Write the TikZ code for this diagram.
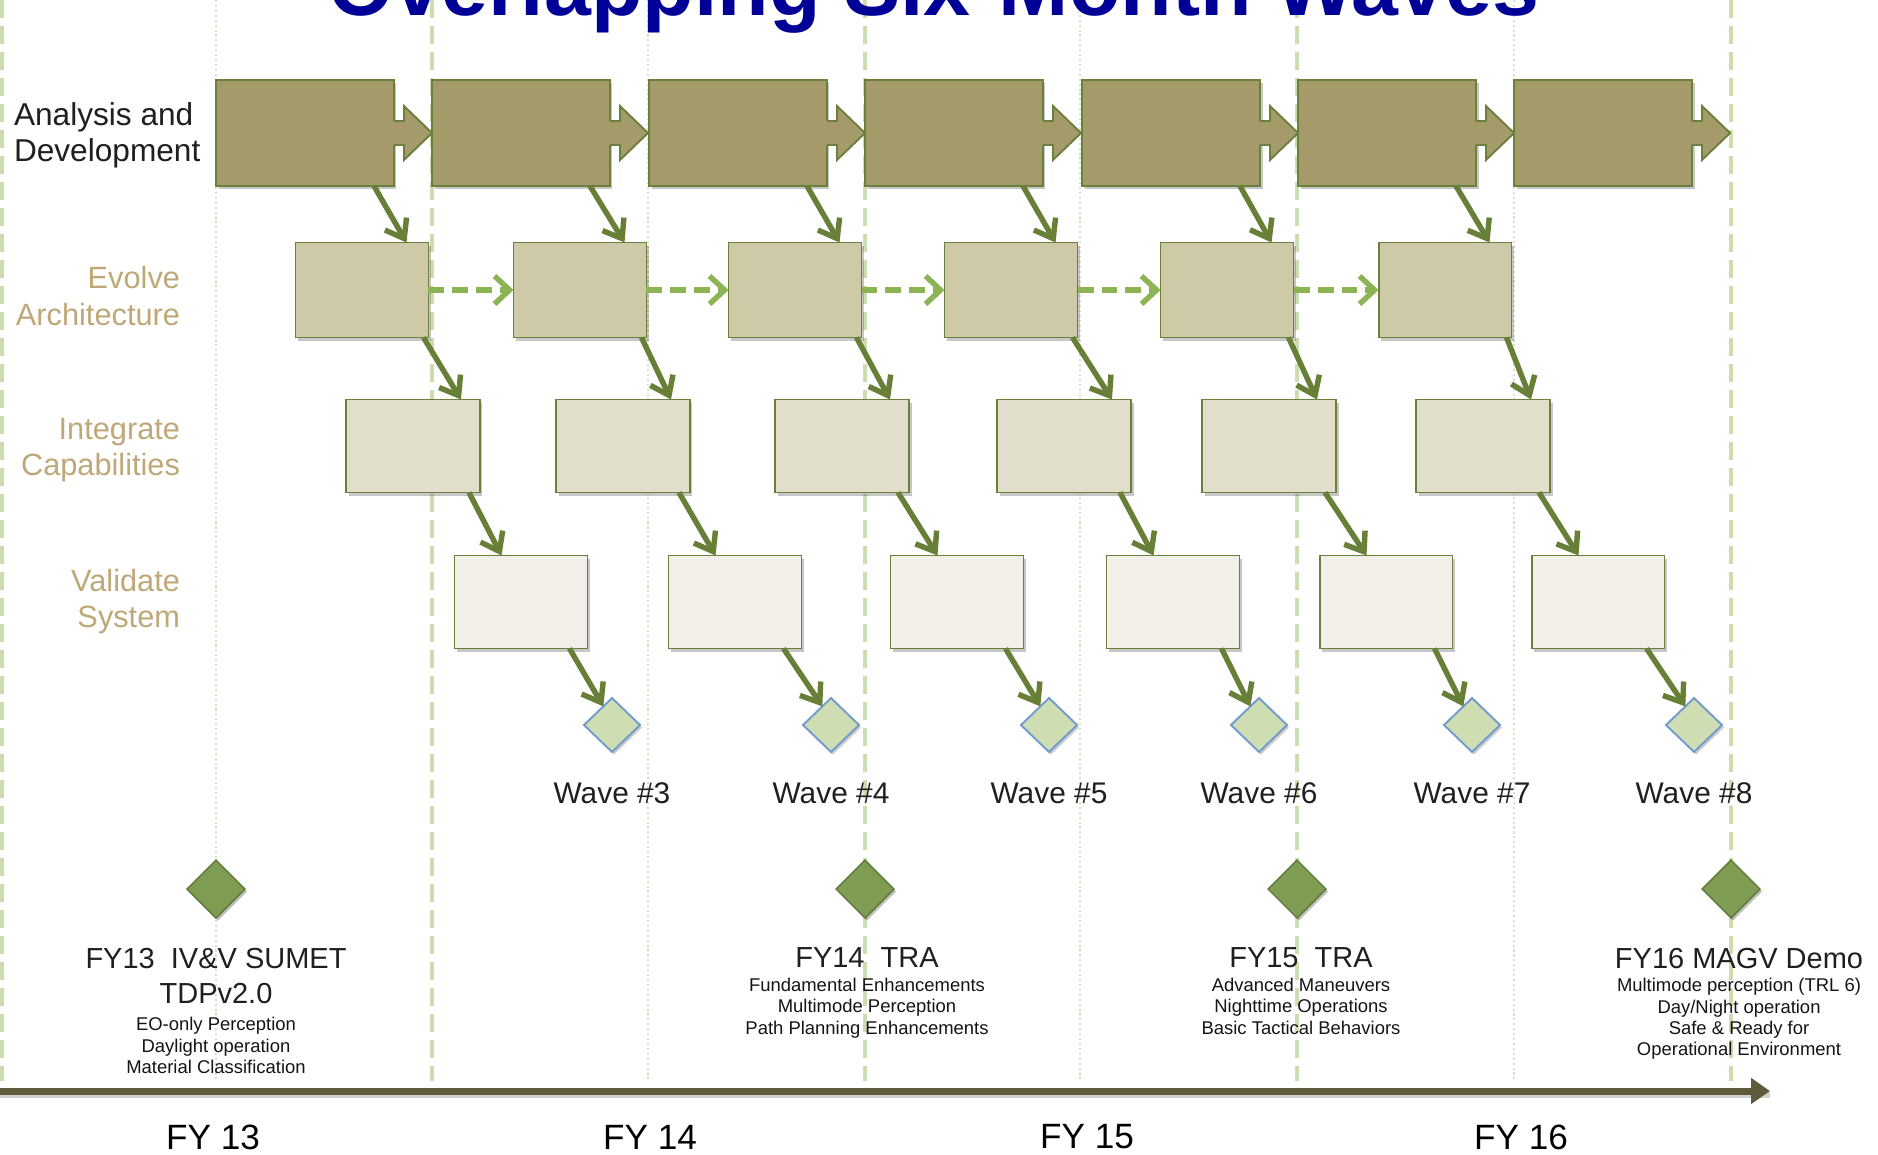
\documentclass[tikz,border=0pt]{standalone}
\usepackage{fontspec}
\setmainfont{Liberation Sans}
\usepackage{tikz}
\usetikzlibrary{positioning, arrows.meta, shapes.geometric, shadows, calc}

\definecolor{titleblue}{RGB}{0,0,150}
\definecolor{adfill}{RGB}{165,155,106}
\definecolor{eafill}{RGB}{206,201,167}
\definecolor{icfill}{RGB}{225,222,204}
\definecolor{vsfill}{RGB}{241,239,231}
\definecolor{boxedge}{RGB}{106,128,60}
\definecolor{flowgreen}{RGB}{104,127,55}
\definecolor{dashgreen}{RGB}{140,180,85}
\definecolor{guidegreen}{RGB}{204,222,176}
\definecolor{guidedot}{RGB}{214,226,198}
\definecolor{rowtan}{RGB}{190,168,120}
\definecolor{axisbrown}{RGB}{94,91,58}
\definecolor{wavefill}{RGB}{207,222,178}
\definecolor{waveedge}{RGB}{115,155,205}
\definecolor{msfill}{RGB}{127,157,82}
\definecolor{msedge}{RGB}{95,120,55}

% arrow head on the right of a top row box
\newcommand{\adhead}[1]{%
  \fill[adfill] ($(#1.east)+(-3,-12)$) -- ++(13,0) -- ++(0,-15) -- ++(28,27)
    -- ++(-28,27) -- ++(0,-15) -- ++(-13,0) -- cycle;
  \draw[boxedge, line width=1.1pt, line join=miter] ($(#1.east)+(0,-12)$) -- ++(10,0)
    -- ++(0,-15) -- ++(28,27) -- ++(-28,27) -- ++(0,-15) -- ++(-10,0);}

\begin{document}
\begin{tikzpicture}[
        x=0.02cm, y=-0.02cm,
        every node/.style={inner sep=0pt, outer sep=0pt}, % Node style
        box/.style={rectangle, draw=boxedge, line width=1.1pt,
            drop shadow={shadow xshift=0.05cm, shadow yshift=-0.06cm, opacity=0.22, fill=black}},
        adbox/.style={box, fill=adfill, minimum width=3.56cm, minimum height=2.12cm},
        eabox/.style={box, fill=eafill, minimum width=2.66cm, minimum height=1.9cm},
        icbox/.style={box, fill=icfill, minimum width=2.68cm, minimum height=1.86cm},
        vsbox/.style={box, fill=vsfill, minimum width=2.66cm, minimum height=1.86cm},
        wave/.style={diamond, draw=waveedge, fill=wavefill, line width=1.1pt,
            minimum width=1.12cm, minimum height=1.08cm,
            drop shadow={shadow xshift=0.04cm, shadow yshift=-0.05cm, opacity=0.2, fill=black}},
        milestone/.style={diamond, draw=msedge, fill=msfill, line width=0.8pt,
            minimum width=1.16cm, minimum height=1.16cm,
            drop shadow={shadow xshift=0.04cm, shadow yshift=-0.05cm, opacity=0.25, fill=black}},
        flow/.style={flowgreen, line width=3.1pt, -{Straight Barb[length=0.34cm, width=0.5cm]}}, % Arrow style
        handoff/.style={dashgreen, line width=3.1pt, dash pattern=on 0.32cm off 0.16cm,
            -{Straight Barb[length=0.3cm, width=0.56cm]}},
        guide/.style={guidegreen, line width=2.8pt, dash pattern=on 0.36cm off 0.16cm},
        guidedotted/.style={guidedot, line width=0.9pt, dash pattern=on 1.2pt off 1.6pt},
        rowlabel/.style={font=\fontsize{17.5}{20.5}\selectfont, text=rowtan, align=right, anchor=east},
        wavelabel/.style={font=\fontsize{17}{20}\selectfont, text=black!88},
        mstitle/.style={font=\fontsize{16.5}{20.4}\selectfont, text=black!88, align=center},
        msnote/.style={font=\fontsize{10.5}{12.2}\selectfont, text=black!92, align=center},
        fylabel/.style={font=\fontsize{20}{24}\selectfont, text=black}
    ]
    \useasboundingbox (0,0) rectangle (1878,1154);

    % Guide lines
    \draw[guidedotted] (216,0) -- (216,1081);
    \draw[guidedotted] (648,0) -- (648,1081);
    \draw[guidedotted] (1080,0) -- (1080,1081);
    \draw[guidedotted] (1514,0) -- (1514,1081);
    \draw[guide] (2,0) -- (2,1081);
    \draw[guide] (432,0) -- (432,1081);
    \draw[guide] (865,0) -- (865,1081);
    \draw[guide] (1297,0) -- (1297,1081);
    \draw[guide] (1731,0) -- (1731,1081);

    % Title
    \node (title) [anchor=base, font=\fontsize{48}{56}\selectfont\bfseries, text=titleblue] at (934,15) {Overlapping Six-Month Waves};

    % Row labels
    \node (lblad) [anchor=west, align=left, font=\fontsize{18}{20.5}\selectfont, text=black!88] at (14,135) {Analysis and\\Development};
    \node (lblea) [rowlabel] at (180,296) {Evolve\\Architecture};
    \node (lblic) [rowlabel] at (180,450) {Integrate\\Capabilities};
    \node (lblvs) [rowlabel] at (180,602) {Validate\\System};

    % Analysis and development
    \node (ad1) [adbox] at (305,133) {};  \adhead{ad1}
    \node (ad2) [adbox] at (521,133) {};  \adhead{ad2}
    \node (ad3) [adbox] at (738,133) {};  \adhead{ad3}
    \node (ad4) [adbox] at (954,133) {};  \adhead{ad4}
    \node (ad5) [adbox] at (1171,133) {}; \adhead{ad5}
    \node (ad6) [adbox] at (1387,133) {}; \adhead{ad6}
    \node (ad7) [adbox] at (1603,133) {}; \adhead{ad7}

    % Evolve architecture
    \node (ea1) [eabox] at (362,290) {};
    \node (ea2) [eabox] at (580,290) {};
    \node (ea3) [eabox] at (795,290) {};
    \node (ea4) [eabox] at (1011,290) {};
    \node (ea5) [eabox] at (1227,290) {};
    \node (ea6) [eabox] at (1445,290) {};

    % Integrate capabilities
    \node (ic1) [icbox] at (413,446) {};
    \node (ic2) [icbox] at (623,446) {};
    \node (ic3) [icbox] at (842,446) {};
    \node (ic4) [icbox] at (1064,446) {};
    \node (ic5) [icbox] at (1269,446) {};
    \node (ic6) [icbox] at (1483,446) {};

    % Validate system
    \node (vs1) [vsbox] at (521,602) {};
    \node (vs2) [vsbox] at (735,602) {};
    \node (vs3) [vsbox] at (957,602) {};
    \node (vs4) [vsbox] at (1173,602) {};
    \node (vs5) [vsbox] at (1386,602) {};
    \node (vs6) [vsbox] at (1598,602) {};

    % Waves
    \node (wv3) [wave] at (612,725) {};
    \node (wv4) [wave] at (831,725) {};
    \node (wv5) [wave] at (1049,725) {};
    \node (wv6) [wave] at (1259,725) {};
    \node (wv7) [wave] at (1472,725) {};
    \node (wv8) [wave] at (1694,725) {};
    \node[wavelabel, below=0.62cm of wv3] {Wave \#3};
    \node[wavelabel, below=0.62cm of wv4] {Wave \#4};
    \node[wavelabel, below=0.62cm of wv5] {Wave \#5};
    \node[wavelabel, below=0.62cm of wv6] {Wave \#6};
    \node[wavelabel, below=0.62cm of wv7] {Wave \#7};
    \node[wavelabel, below=0.62cm of wv8] {Wave \#8};

    % Analysis to architecture
    \draw[flow] ([xshift=-0.4cm]ad1.south east) -- ([xshift=-0.44cm]ea1.north east);
    \draw[flow] ([xshift=-0.4cm]ad2.south east) -- ([xshift=-0.44cm]ea2.north east);
    \draw[flow] ([xshift=-0.4cm]ad3.south east) -- ([xshift=-0.44cm]ea3.north east);
    \draw[flow] ([xshift=-0.4cm]ad4.south east) -- ([xshift=-0.44cm]ea4.north east);
    \draw[flow] ([xshift=-0.4cm]ad5.south east) -- ([xshift=-0.44cm]ea5.north east);
    \draw[flow] ([xshift=-0.4cm]ad6.south east) -- ([xshift=-0.44cm]ea6.north east);

    % Architecture hand-offs
    \draw[handoff] (ea1.east) -- (ea2.west);
    \draw[handoff] (ea2.east) -- (ea3.west);
    \draw[handoff] (ea3.east) -- (ea4.west);
    \draw[handoff] (ea4.east) -- (ea5.west);
    \draw[handoff] (ea5.east) -- (ea6.west);

    % Architecture to integration
    \draw[flow] ([xshift=-0.1cm]ea1.south east) -- ([xshift=-0.38cm]ic1.north east);
    \draw[flow] ([xshift=-0.1cm]ea2.south east) -- ([xshift=-0.38cm]ic2.north east);
    \draw[flow] ([xshift=-0.1cm]ea3.south east) -- ([xshift=-0.38cm]ic3.north east);
    \draw[flow] ([xshift=-0.1cm]ea4.south east) -- ([xshift=-0.38cm]ic4.north east);
    \draw[flow] ([xshift=-0.1cm]ea5.south east) -- ([xshift=-0.38cm]ic5.north east);
    \draw[flow] ([xshift=-0.1cm]ea6.south east) -- ([xshift=-0.38cm]ic6.north east);

    % Integration to validation
    \draw[flow] ([xshift=-0.22cm]ic1.south east) -- ([xshift=0.94cm]vs1.north west);
    \draw[flow] ([xshift=-0.22cm]ic2.south east) -- ([xshift=0.94cm]vs2.north west);
    \draw[flow] ([xshift=-0.22cm]ic3.south east) -- ([xshift=0.94cm]vs3.north west);
    \draw[flow] ([xshift=-0.22cm]ic4.south east) -- ([xshift=0.94cm]vs4.north west);
    \draw[flow] ([xshift=-0.22cm]ic5.south east) -- ([xshift=0.94cm]vs5.north west);
    \draw[flow] ([xshift=-0.22cm]ic6.south east) -- ([xshift=0.94cm]vs6.north west);

    % Validation to waves
    \draw[flow] ([xshift=-0.36cm]vs1.south east) -- (wv3.115);
    \draw[flow] ([xshift=-0.36cm]vs2.south east) -- (wv4.115);
    \draw[flow] ([xshift=-0.36cm]vs3.south east) -- (wv5.115);
    \draw[flow] ([xshift=-0.36cm]vs4.south east) -- (wv6.115);
    \draw[flow] ([xshift=-0.36cm]vs5.south east) -- (wv7.115);
    \draw[flow] ([xshift=-0.36cm]vs6.south east) -- (wv8.115);

    % Milestones
    \node (ms13) [milestone] at (216,889) {};
    \node (ms14) [milestone] at (865,889) {};
    \node (ms15) [milestone] at (1297,889) {};
    \node (ms16) [milestone] at (1731,889) {};

    \node (t13) [mstitle] at (216,976) {FY13\ \ IV\&V SUMET\\TDPv2.0};
    \node (n13) [msnote, below=0.26cm of t13] {EO-only Perception\\Daylight operation\\Material Classification};
    \node (t14) [mstitle] at (867,958) {FY14\ \ TRA};
    \node (n14) [msnote, below=0.2cm of t14] {Fundamental Enhancements\\Multimode Perception\\Path Planning Enhancements};
    \node (t15) [mstitle] at (1301,958) {FY15\ \ TRA};
    \node (n15) [msnote, below=0.2cm of t15] {Advanced Maneuvers\\Nighttime Operations\\Basic Tactical Behaviors};
    \node (t16) [mstitle] at (1739,958) {FY16 MAGV Demo};
    \node (n16) [msnote, below=0.2cm of t16] {Multimode perception (TRL 6)\\Day/Night operation\\Safe \& Ready for\\Operational Environment};

    % Time axis
    \coordinate (axstart) at (0,1091);
    \coordinate (axend) at (1770,1091);
    \draw[black!18, line width=3pt] ([yshift=-0.08cm]axstart) -- ([yshift=-0.08cm]axend);
    \draw[axisbrown, line width=4pt, -{Triangle[length=0.38cm, width=0.5cm]}] (axstart) -- (axend);

    \node (fy13) [fylabel] at (213,1137) {FY 13};
    \node (fy14) [fylabel] at (650,1137) {FY 14};
    \node (fy15) [fylabel] at (1087,1137) {FY 15};
    \node (fy16) [fylabel] at (1521,1137) {FY 16};

\end{tikzpicture}
\end{document}
